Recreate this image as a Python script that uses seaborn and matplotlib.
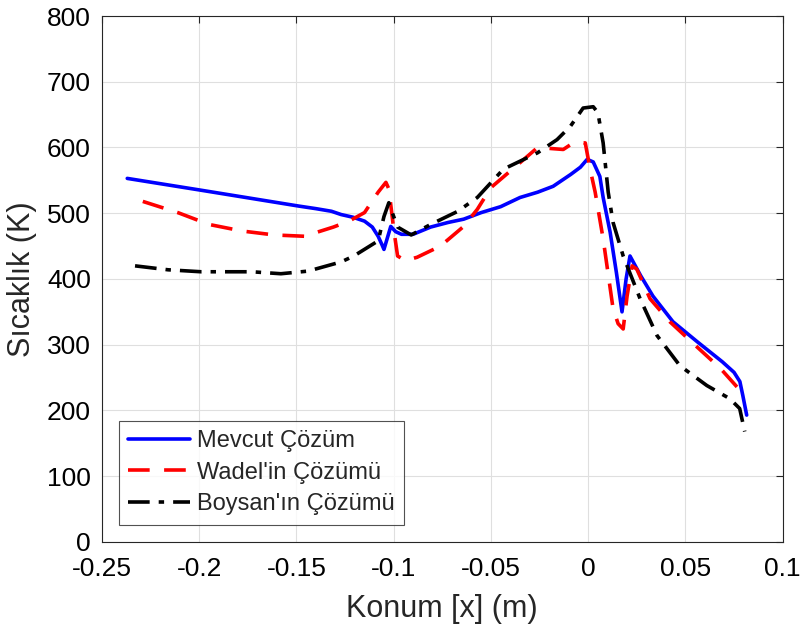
import numpy as np
import pandas as pd
import matplotlib
matplotlib.use("Agg")
import matplotlib.pyplot as plt
import seaborn as sns

# Mevcut cozum (blue, solid)
x_mevcut = [-0.237, -0.218, -0.199, -0.174, -0.149, -0.140, -0.132, -0.127, -0.121, -0.115,
            -0.111, -0.108, -0.106, -0.105, -0.1035, -0.1015, -0.099,
            -0.096, -0.090, -0.081, -0.072, -0.064, -0.055, -0.045, -0.035, -0.026, -0.018,
            -0.009, -0.004, -0.0005, 0.0026, 0.006, 0.0077, 0.0113, 0.0145, 0.0174, 0.0195,
            0.0215, 0.027, 0.0333, 0.0436, 0.0559, 0.069, 0.075, 0.078, 0.0795, 0.0815]
y_mevcut = [553, 544, 535, 523, 511, 507, 503, 498, 494, 488,
            479, 465, 452, 445, 460, 480, 472,
            468, 468, 479, 486, 491, 501, 510, 524, 532, 541,
            559, 570, 582, 578, 556, 524, 471, 410, 350, 400,
            435, 405, 374, 335, 305, 274, 258, 244, 223, 193]

# Wadel'in cozumu (red, dashed)
x_wadel = [-0.229, -0.211, -0.195, -0.178, -0.1615, -0.146, -0.131, -0.123, -0.115, -0.108,
           -0.104, -0.1025, -0.100, -0.098, -0.094, -0.088, -0.076, -0.064, -0.057, -0.050,
           -0.035, -0.026, -0.0128, -0.0077, -0.0015, 0.001, 0.0036, 0.0077, 0.0128,
           0.0154, 0.018, 0.020, 0.0226, 0.025, 0.0318, 0.042, 0.054, 0.068, 0.0795]
y_wadel = [518, 501, 483, 473, 467, 465, 479, 488, 501, 532,
           547, 537, 476, 435, 428, 433, 450, 480, 506, 539,
           577, 600, 597, 607, 607, 567, 532, 461, 355,
           332, 324, 374, 420, 415, 370, 335, 302, 264, 226]

# Boysan'in cozumu (black, dash-dot)
x_boysan = [-0.233, -0.216, -0.199, -0.173, -0.158, -0.144, -0.127, -0.1205, -0.108,
            -0.105, -0.1025, -0.100, -0.098, -0.091, -0.081, -0.067, -0.057, -0.0436,
            -0.026, -0.016, -0.0092, -0.0026, 0.0026, 0.005, 0.0077, 0.0103, 0.0128,
            0.018, 0.0267, 0.0354, 0.0472, 0.061, 0.0728, 0.0779, 0.0805]
y_boysan = [420, 414, 411, 411, 408, 412, 426, 435, 458,
            495, 516, 495, 479, 467, 483, 503, 524, 567,
            592, 612, 632, 660, 662, 653, 607, 532, 486,
            435, 370, 314, 268, 238, 218, 203, 168]

labels = ["Mevcut Çözüm", "Wadel'in Çözümü", "Boysan'ın Çözümü"]

sns.set_style("white")
plt.rcParams['font.family'] = ['Liberation Sans', 'DejaVu Sans']

fig = plt.figure(figsize=(8.01, 6.3), dpi=100)
ax = fig.add_axes([0.1273, 0.1397, 0.8498, 0.8349])

sns.lineplot(x=x_mevcut, y=y_mevcut, ax=ax, sort=False, color='#0000ff',
             lw=2.6, label=labels[0])
sns.lineplot(x=x_wadel, y=y_wadel, ax=ax, sort=False, color='#ff0000',
             lw=2.6, label=labels[1])
ax.lines[-1].set_dashes([6, 4])
sns.lineplot(x=x_boysan, y=y_boysan, ax=ax, sort=False, color='black',
             lw=2.6, label=labels[2])
ax.lines[-1].set_dashes([6, 2.5, 1.5, 2.5])

ax.set_xlim(-0.25, 0.1)
ax.set_ylim(0, 800)
ax.set_xticks([-0.25, -0.2, -0.15, -0.1, -0.05, 0, 0.05, 0.1])
ax.set_xticklabels(['-0.25', '-0.2', '-0.15', '-0.1', '-0.05', '0', '0.05', '0.1'])
ax.set_yticks(range(0, 801, 100))
ax.grid(True, color='#dfdfdf', lw=0.8)
ax.tick_params(direction='in', labelsize=19, length=5, top=True, right=True,
               color='#262626', labelcolor='black')
ax.tick_params(axis='x', pad=11)
ax.tick_params(axis='y', pad=8)
for s in ax.spines.values():
    s.set_color('#262626')
    s.set_linewidth(0.8)
ax.set_xlabel("Konum [x] (m)", fontsize=22, labelpad=9)
ax.set_ylabel("Sıcaklık (K)", fontsize=22, labelpad=7)

leg = ax.legend(loc='lower left', bbox_to_anchor=(0.025, 0.033), fontsize=17,
                frameon=True, fancybox=False, edgecolor='#262626',
                handlelength=2.6, handletextpad=0.3, borderpad=0.4,
                labelspacing=0.4, borderaxespad=0.0)
leg.get_frame().set_linewidth(0.8)

fig.savefig("out.png", dpi=100)
